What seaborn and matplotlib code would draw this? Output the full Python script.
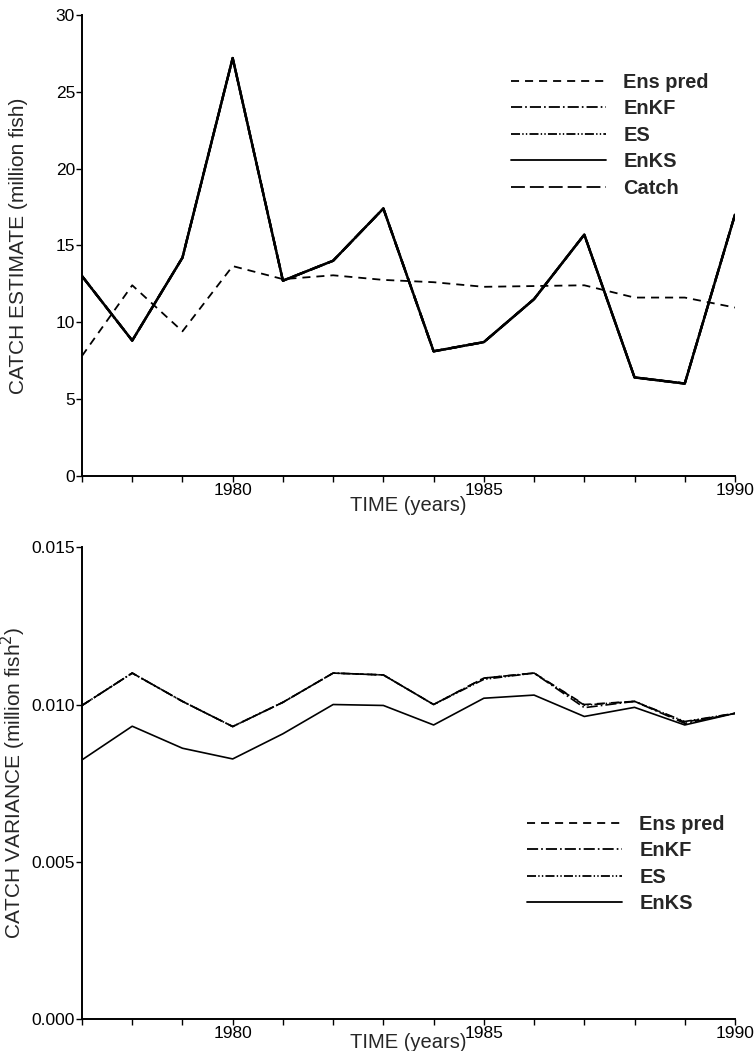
import matplotlib
matplotlib.use("Agg")
import matplotlib.pyplot as plt
import seaborn as sns

# 年（1977～1990）
years = list(range(1977, 1991))

# 上段：漁獲推定値（million fish）
catch_obs = [13.0, 8.8, 14.2, 27.2, 12.7, 14.0, 17.4, 8.1, 8.7, 11.5, 15.7, 6.4, 6.0, 17.0]
ens_pred_est = [7.8, 12.4, 9.4, 13.65, 12.8, 13.05, 12.75, 12.6, 12.3, 12.35, 12.4, 11.6, 11.6, 10.95]
enkf_est = catch_obs
es_est = catch_obs
enks_est = catch_obs

# 下段：漁獲分散（million fish^2）
ens_pred_var = [0.00997, 0.0110, 0.0101, 0.0093, 0.01007, 0.0110, 0.01094, 0.0100, 0.01084, 0.0110, 0.01000, 0.0101, 0.00944, 0.00972]
enkf_var = [0.00997, 0.0110, 0.0101, 0.0093, 0.01007, 0.0110, 0.01094, 0.0100, 0.01084, 0.0110, 0.00990, 0.0101, 0.00940, 0.00972]
es_var = [0.00997, 0.0110, 0.0101, 0.0093, 0.01007, 0.0110, 0.01094, 0.0100, 0.01080, 0.0110, 0.00998, 0.0101, 0.00946, 0.00972]
enks_var = [0.00824, 0.00931, 0.00861, 0.00827, 0.00907, 0.0100, 0.00997, 0.00935, 0.0102, 0.0103, 0.00962, 0.00991, 0.00935, 0.00972]

sns.set_style("ticks")
plt.rcParams["font.family"] = ["Liberation Sans", "DejaVu Sans"]
plt.rcParams["lines.scale_dashes"] = False

# 線種（ポイント単位）
LS_PRED = (0, (5.8, 4.3))
LS_ENKF = (0, (8, 2.2, 1.2, 2.2))
LS_ES = (0, (6.5, 1.6, 1.0, 1.6, 1.0, 1.6))
LS_CATCH = (0, (10, 3.6))

LEG_KW = dict(frameon=False, handlelength=4.75, handletextpad=0.87, labelspacing=0.37,
              borderpad=0, borderaxespad=0, prop={"weight": "bold", "size": 14.4})

fig = plt.figure(figsize=(7.55, 10.51), dpi=100)
ax1 = fig.add_axes([0.1086, 0.5474, 0.8649, 0.4383])
ax2 = fig.add_axes([0.1086, 0.0304, 0.8649, 0.4489])


def style_axis(ax, ylabel, xpad):
    sns.despine(ax=ax)
    for s in ("left", "bottom"):
        ax.spines[s].set_linewidth(1.4)
        ax.spines[s].set_color("black")
    ax.set_xlim(1977, 1990)
    ax.set_xticks(years)
    ax.set_xticklabels([str(y) if y % 5 == 0 else "" for y in years])
    ax.tick_params(axis="both", direction="out", length=4, width=1.0,
                   labelsize=12.5, colors="black", pad=1)
    ax.set_xlabel("TIME (years)", fontsize=14.5, labelpad=xpad)
    ax.set_ylabel(ylabel, fontsize=15)
    ax.yaxis.set_label_coords(-0.082, 0.5)


# 上段
sns.lineplot(x=years, y=catch_obs, ax=ax1, color="black", lw=1.6, linestyle=LS_CATCH, label="Catch")
sns.lineplot(x=years, y=ens_pred_est, ax=ax1, color="black", lw=1.3, linestyle=LS_PRED, label="Ens pred")
sns.lineplot(x=years, y=enkf_est, ax=ax1, color="black", lw=1.6, linestyle=LS_ENKF, label="EnKF")
sns.lineplot(x=years, y=es_est, ax=ax1, color="black", lw=1.6, linestyle=LS_ES, label="ES")
sns.lineplot(x=years, y=enks_est, ax=ax1, color="black", lw=1.8, linestyle="-", label="EnKS")
ax1.set_ylim(0, 30)
ax1.set_yticks(range(0, 31, 5))
style_axis(ax1, "CATCH ESTIMATE (million fish)", -1)

h, l = ax1.get_legend_handles_labels()
order = ["Ens pred", "EnKF", "ES", "EnKS", "Catch"]
hmap = dict(zip(l, h))
leg1 = ax1.legend([hmap[k] for k in order], order, loc="upper left",
                  bbox_to_anchor=(511 / 755, 1 - 73 / 1051), bbox_transform=fig.transFigure,
                  **LEG_KW)
for line in leg1.get_lines():
    line.set_linewidth(1.3)

# 下段
sns.lineplot(x=years, y=ens_pred_var, ax=ax2, color="black", lw=1.2, linestyle=LS_PRED, label="Ens pred")
sns.lineplot(x=years, y=enkf_var, ax=ax2, color="black", lw=1.2, linestyle=LS_ENKF, label="EnKF")
sns.lineplot(x=years, y=es_var, ax=ax2, color="black", lw=1.2, linestyle=LS_ES, label="ES")
sns.lineplot(x=years, y=enks_var, ax=ax2, color="black", lw=1.2, linestyle="-", label="EnKS")
ax2.set_ylim(0, 0.015)
ax2.set_yticks([0.0, 0.005, 0.010, 0.015])
ax2.set_yticklabels(["0.000", "0.005", "0.010", "0.015"])
style_axis(ax2, "CATCH VARIANCE (million fish$^2$)", -6)

leg2 = ax2.legend(loc="upper left",
                  bbox_to_anchor=(527 / 755, 1 - 815 / 1051), bbox_transform=fig.transFigure,
                  **LEG_KW)
for line in leg2.get_lines():
    line.set_linewidth(1.3)

fig.savefig("out.png", dpi=100)
